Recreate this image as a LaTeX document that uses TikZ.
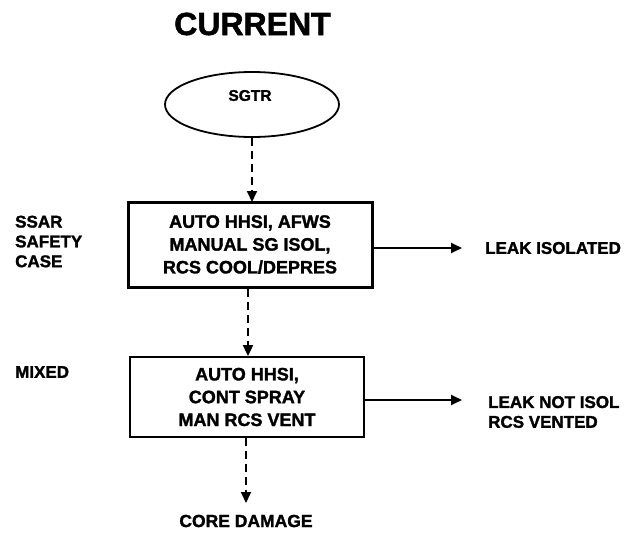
\documentclass[tikz,border=0pt]{standalone}
\usepackage{fontspec}
\setmainfont{Liberation Sans}[BoldFeatures={FakeBold=1.6}]
\usetikzlibrary{arrows.meta,shapes.geometric}
\tikzset{
  every node/.style={font=\bfseries},
  boxtext/.style={align=center,font=\bfseries\fontsize{18}{22.8}\selectfont},
  sidelabel/.style={align=left,anchor=west,inner sep=3pt,font=\bfseries\fontsize{17}{19.8}\selectfont},
  flow/.style={line width=1.8pt,-{Triangle[length=11pt,width=10pt]}},
  dflow/.style={flow,dash pattern=on 8pt off 5pt},
}
\begin{document}
\begin{tikzpicture}[x=1pt,y=-1pt]
\useasboundingbox (0,0) rectangle (638,536);
\node (title) at (252.5,24) {\fontsize{32}{36}\selectfont CURRENT};
\node[ellipse,draw,line width=1.8pt,minimum width=174pt,minimum height=65pt,inner sep=0pt] (sgtr) at (252,104.5) {};
\node (sgtrt) at (250,95.5) {\fontsize{15.5}{18}\selectfont SGTR};
\node[draw,line width=3pt,minimum width=244pt,minimum height=85pt,boxtext] (b1) at (250,244.5) {AUTO HHSI, AFWS\\MANUAL SG ISOL,\\RCS COOL/DEPRES};
\node[draw,line width=1.8pt,minimum width=234pt,minimum height=80pt,boxtext] (b2) at (247,397) {AUTO HHSI,\\CONT SPRAY\\MAN RCS VENT};
\node[sidelabel] (ssar) at (12,241.5) {SSAR\\SAFETY\\CASE};
\node[sidelabel] (mixed) at (12,372) {MIXED};
\node[sidelabel] (leak1) at (482,248) {LEAK ISOLATED};
\node[sidelabel] (leak2) at (485,412) {LEAK NOT ISOL\\RCS VENTED};
\node (core) at (246,521) {\fontsize{17.5}{20}\selectfont CORE DAMAGE};
\coordinate (t1) at (462,248);
\coordinate (t2) at (462,400);
\coordinate (t3) at (246,503);
\draw[dflow] (sgtr.south -| 252,0) -- (252,202);
\draw[dflow] (b1.south -| 248,0) -- (b2.north -| 248,0);
\draw[dflow] (b2.south -| 246,0) -- (t3);
\draw[flow] (b1.east |- t1) -- (t1);
\draw[flow] (b2.east |- t2) -- (t2);
\end{tikzpicture}
\end{document}
